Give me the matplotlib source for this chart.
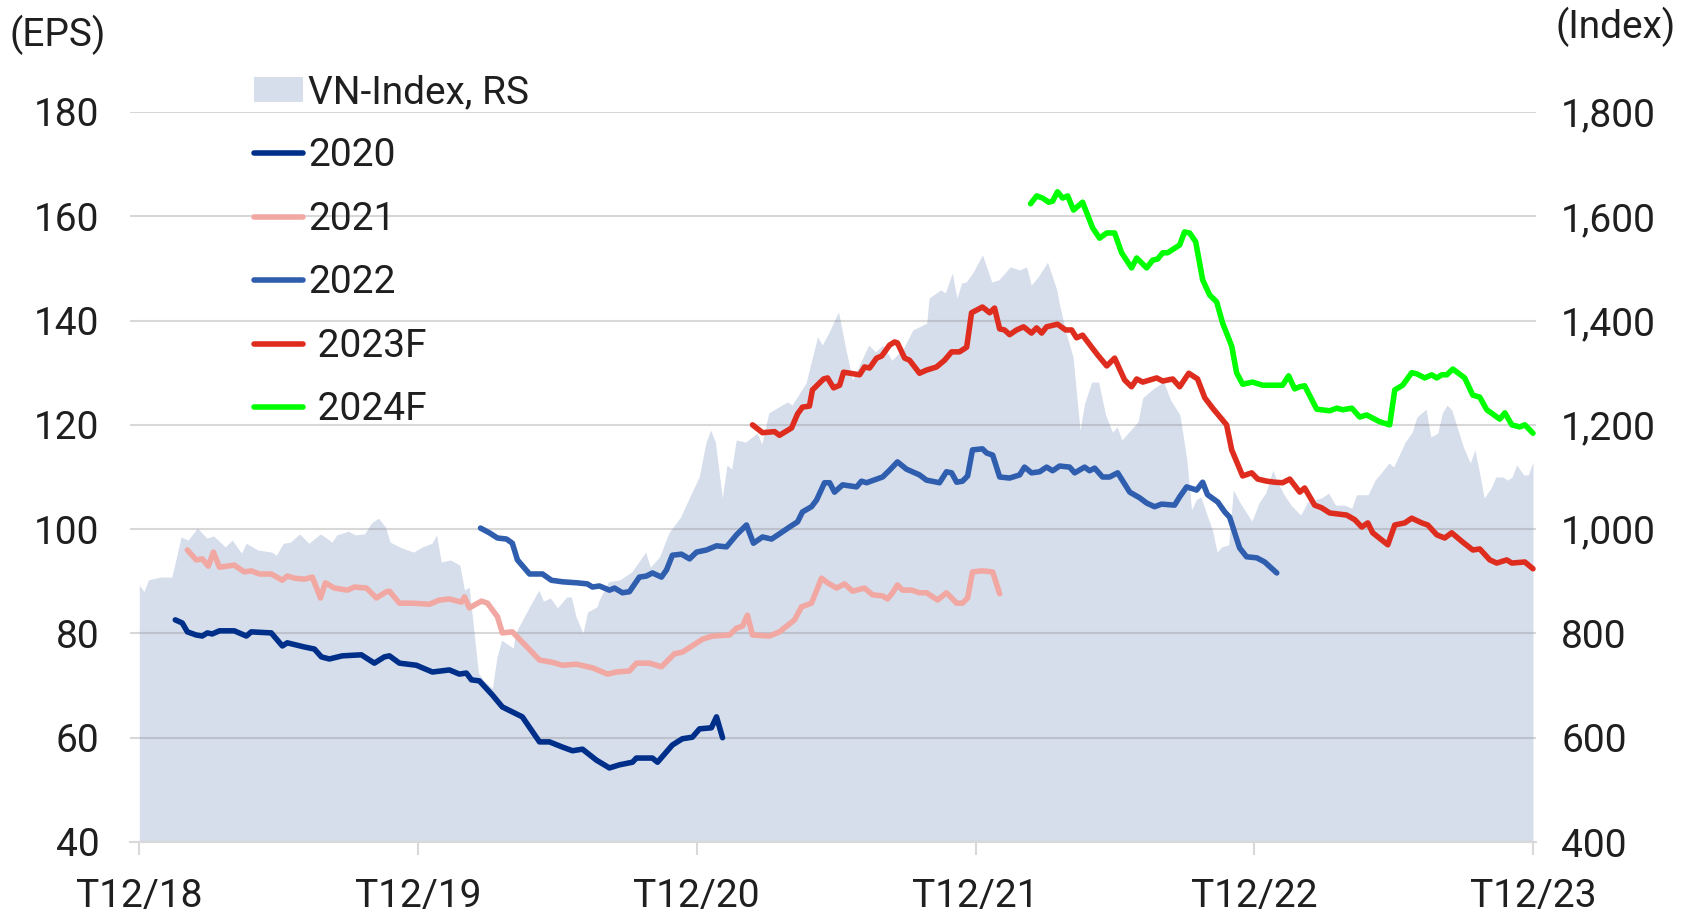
import matplotlib.pyplot as plt
from matplotlib.lines import Line2D
from matplotlib.patches import Patch
from matplotlib.ticker import FuncFormatter

# Data (x = months since T12/18) ---------------------------------------------

x_ticks = [0, 12, 24, 36, 48, 60]
x_labels = ["T12/18", "T12/19", "T12/20", "T12/21", "T12/22", "T12/23"]

# VN-Index, right scale
area_month = [0.0, 0.2, 0.4, 0.9, 1.4, 1.8, 2.1, 2.5, 2.9, 3.2,
              3.7, 4.0, 4.4, 4.6, 5.1, 5.7, 5.9, 6.2, 6.5, 6.9,
              7.3, 7.8, 8.3, 8.5, 9.0, 9.3, 9.7, 10.0, 10.3, 10.6,
              10.8, 11.3, 11.8, 12.2, 12.6, 12.8, 13.0, 13.4, 13.8, 14.0,
              14.2, 14.4, 14.6, 14.8, 15.2, 15.4, 15.6, 16.1, 16.2, 16.5,
              16.8, 17.2, 17.4, 17.7, 18.0, 18.4, 18.6, 18.8, 19.1, 19.3,
              19.7, 19.8, 20.2, 20.7, 21.2, 21.8, 22.0, 22.4, 22.8, 23.3,
              23.7, 24.1, 24.4, 24.6, 24.8, 25.1, 25.3, 25.5, 25.7, 26.1,
              26.6, 26.8, 27.1, 27.9, 28.1, 28.7, 29.2, 29.4, 29.7, 30.1,
              30.4, 30.7, 31.1, 31.4, 31.7, 32.0, 32.4, 32.9, 33.3, 33.9,
              34.0, 34.5, 34.7, 35.0, 35.2, 35.4, 35.6, 35.9, 36.3, 36.7,
              37.0, 37.5, 37.9, 38.2, 38.4, 38.7, 39.1, 39.5, 39.6, 39.9,
              40.2, 40.5, 40.7, 41.0, 41.3, 41.6, 41.9, 42.1, 42.3, 43.0,
              43.2, 43.7, 44.1, 44.4, 44.8, 45.1, 45.3, 45.5, 45.7, 46.0,
              46.2, 46.4, 46.6, 46.9, 47.1, 47.4, 47.9, 48.2, 48.5, 48.8,
              49.0, 49.3, 49.6, 50.0, 50.3, 50.9, 51.2, 51.5, 51.9, 52.2,
              52.4, 52.9, 53.2, 53.5, 53.8, 54.0, 54.5, 54.8, 55.0, 55.4,
              55.6, 55.9, 56.1, 56.3, 56.5, 57.0, 57.3, 57.5, 57.7, 57.9,
              58.2, 58.4, 58.7, 58.9, 59.1, 59.3, 59.6, 59.8, 60.0]
area_index = [893, 880, 903, 908, 908, 985, 979, 1002, 983, 987,
              966, 979, 954, 973, 960, 956, 950, 973, 975, 991,
              973, 991, 975, 989, 996, 989, 991, 1012, 1021, 1004,
              975, 964, 956, 966, 973, 989, 937, 941, 931, 883,
              889, 807, 724, 711, 695, 755, 787, 772, 801, 826,
              851, 883, 862, 868, 849, 870, 870, 832, 801, 841,
              851, 864, 899, 903, 918, 956, 927, 947, 993, 1023,
              1062, 1100, 1167, 1190, 1167, 1060, 1123, 1115, 1171, 1167,
              1184, 1163, 1223, 1244, 1238, 1280, 1369, 1353, 1378, 1417,
              1349, 1286, 1324, 1353, 1340, 1353, 1324, 1347, 1382, 1395,
              1443, 1459, 1453, 1491, 1443, 1472, 1474, 1493, 1526, 1474,
              1478, 1503, 1497, 1503, 1468, 1484, 1512, 1459, 1434, 1376,
              1330, 1190, 1242, 1282, 1282, 1219, 1186, 1196, 1171, 1206,
              1252, 1271, 1282, 1248, 1219, 1133, 1037, 1056, 1062, 1023,
              998, 956, 966, 970, 1075, 1050, 1015, 1050, 1070, 1113,
              1090, 1065, 1045, 1027, 1052, 1060, 1069, 1046, 1046, 1040,
              1066, 1066, 1094, 1110, 1127, 1119, 1167, 1186, 1215, 1230,
              1177, 1184, 1223, 1238, 1229, 1158, 1127, 1152, 1108, 1060,
              1079, 1100, 1100, 1094, 1100, 1123, 1104, 1104, 1129]

# EPS 2020
eps20_month = [1.55, 1.85, 2.07, 2.45, 2.71, 2.93, 3.14, 3.45, 4.09, 4.61,
               4.82, 5.68, 6.16, 6.37, 7.11, 7.54, 7.84, 8.18, 8.74, 9.56,
               10.12, 10.55, 10.77, 11.2, 11.93, 12.19, 12.62, 13.35, 13.78, 14.08,
               14.3, 14.64, 15.2, 15.63, 16.49, 17.23, 17.66, 18.22, 18.65, 19.08,
               19.68, 20.24, 20.67, 21.23, 21.4, 22.09, 22.31, 22.95, 23.38, 23.81,
               24.12, 24.63, 24.85, 25.11]
eps20 = [82.6, 82.0, 80.3, 79.7, 79.5, 80.1, 79.9, 80.5, 80.5, 79.5,
         80.3, 80.1, 77.6, 78.2, 77.4, 77.0, 75.5, 75.1, 75.7, 75.9,
         74.3, 75.5, 75.7, 74.3, 73.9, 73.4, 72.6, 73.0, 72.2, 72.4,
         71.1, 70.9, 68.2, 65.9, 64.0, 59.2, 59.2, 58.2, 57.5, 57.8,
         55.7, 54.2, 54.8, 55.3, 56.1, 56.1, 55.3, 58.6, 59.8, 60.1,
         61.7, 61.9, 64.0, 60.0]

# EPS 2021
eps21_month = [2.07, 2.45, 2.71, 2.97, 3.19, 3.45, 4.09, 4.52, 4.82, 5.17,
               5.68, 6.16, 6.37, 6.68, 7.11, 7.45, 7.8, 8.01, 8.4, 8.96,
               9.26, 9.78, 10.21, 10.64, 10.77, 11.2, 11.76, 12.49, 12.92, 13.35,
               13.87, 14.0, 14.21, 14.73, 14.99, 15.42, 15.63, 16.06, 16.28, 17.23,
               17.74, 18.22, 18.82, 19.51, 20.16, 20.54, 21.1, 21.4, 21.96, 22.48,
               23.04, 23.38, 24.25, 24.68, 25.41, 25.71, 25.97, 26.18, 26.4, 27.13,
               27.56, 28.21, 28.51, 28.94, 29.37, 29.63, 30.02, 30.36, 30.71, 31.22,
               31.57, 32.0, 32.21, 32.43, 32.64, 32.86, 33.25, 33.59, 33.89, 34.37,
               34.75, 35.19, 35.44, 35.66, 35.87, 36.3, 36.74, 37.04]
eps21 = [96.0, 94.1, 94.3, 92.9, 95.6, 92.7, 93.1, 91.8, 92.0, 91.4,
         91.4, 90.2, 91.0, 90.6, 90.4, 90.8, 86.8, 89.7, 88.7, 88.3,
         88.9, 88.7, 86.8, 88.0, 88.1, 85.8, 85.8, 85.6, 86.4, 86.6,
         86.0, 87.0, 84.9, 86.2, 85.8, 83.2, 80.1, 80.3, 79.3, 74.9,
         74.5, 73.9, 74.1, 73.4, 72.2, 72.6, 72.8, 74.3, 74.3, 73.6,
         76.1, 76.4, 78.9, 79.5, 79.7, 81.0, 81.4, 83.5, 79.7, 79.5,
         80.3, 82.6, 85.1, 85.8, 90.6, 89.7, 88.7, 89.5, 88.1, 88.7,
         87.4, 87.2, 86.6, 87.8, 89.3, 88.3, 88.3, 87.8, 87.8, 86.4,
         87.8, 85.8, 85.8, 86.8, 91.8, 92.0, 91.8, 87.6]

# EPS 2022
eps22_month = [14.69, 15.07, 15.42, 15.81, 16.06, 16.28, 16.8, 17.36, 17.74, 18.22,
               18.86, 19.29, 19.51, 19.81, 20.24, 20.46, 20.8, 21.1, 21.53, 21.83,
               22.09, 22.48, 22.7, 22.95, 23.34, 23.69, 23.99, 24.42, 24.85, 25.28,
               25.71, 26.14, 26.44, 26.83, 27.22, 27.56, 27.99, 28.34, 28.55, 28.94,
               29.16, 29.5, 29.72, 29.93, 30.28, 30.88, 31.09, 31.31, 32.0, 32.3,
               32.64, 33.03, 33.59, 33.89, 34.45, 34.75, 34.97, 35.19, 35.44, 35.66,
               35.87, 36.3, 36.48, 36.74, 37.04, 37.47, 37.9, 38.11, 38.41, 38.76,
               39.06, 39.32, 39.62, 40.05, 40.27, 40.7, 40.91, 41.13, 41.47, 41.77,
               42.12, 42.64, 43.07, 43.37, 43.71, 44.01, 44.57, 44.79, 45.09, 45.52,
               45.78, 45.99, 46.43, 46.73, 46.94, 47.37, 47.67, 48.11, 48.45, 48.97]
eps22 = [100.2, 99.3, 98.3, 98.1, 97.3, 94.1, 91.4, 91.4, 90.2, 89.9,
         89.7, 89.5, 88.9, 89.1, 88.3, 88.7, 87.8, 88.0, 90.8, 91.0,
         91.6, 90.8, 92.2, 95.0, 95.2, 94.3, 95.6, 96.0, 96.8, 96.6,
         98.9, 100.8, 97.3, 98.5, 98.1, 99.1, 100.4, 101.4, 103.3, 104.3,
         105.6, 108.9, 108.9, 107.1, 108.5, 108.1, 109.2, 108.9, 110.0, 111.3,
         112.9, 111.5, 110.4, 109.4, 108.9, 111.0, 110.8, 109.0, 109.2, 110.2,
         115.2, 115.4, 114.6, 114.2, 110.0, 109.8, 110.4, 111.9, 110.8, 111.0,
         111.9, 111.2, 112.1, 111.9, 110.8, 111.9, 111.2, 111.7, 110.0, 110.0,
         110.8, 107.1, 106.0, 105.0, 104.3, 104.8, 104.6, 106.2, 108.1, 107.5,
         109.0, 106.6, 105.2, 103.3, 102.3, 96.4, 94.7, 94.5, 93.7, 91.6]

# EPS 2023F
eps23_month = [26.4, 26.83, 27.35, 27.56, 28.08, 28.34, 28.55, 28.85, 28.98, 29.46,
               29.63, 29.89, 30.15, 30.32, 31.01, 31.22, 31.44, 31.74, 31.96, 32.3,
               32.52, 32.64, 32.95, 33.16, 33.59, 33.89, 34.32, 34.67, 34.97, 35.31,
               35.62, 35.83, 36.3, 36.61, 36.82, 37.04, 37.25, 37.47, 37.77, 38.07,
               38.41, 38.63, 38.85, 39.06, 39.53, 39.88, 40.14, 40.35, 40.61, 41.0,
               41.26, 41.65, 41.99, 42.42, 42.72, 42.94, 43.2, 43.8, 44.06, 44.49,
               44.79, 45.18, 45.56, 45.87, 46.21, 46.81, 47.03, 47.5, 47.89, 48.15,
               48.54, 48.88, 49.22, 49.53, 49.96, 50.17, 50.6, 50.9, 51.25, 51.98,
               52.33, 52.63, 52.89, 53.1, 53.75, 54.05, 54.48, 54.78, 55.21, 55.47,
               55.86, 56.2, 56.5, 56.98, 57.41, 57.71, 58.14, 58.44, 58.87, 59.09,
               59.65, 60.0]
eps23 = [120.0, 118.5, 118.7, 118.0, 119.4, 122.1, 123.4, 123.6, 126.7, 128.8,
         129.0, 127.1, 127.6, 130.1, 129.6, 131.1, 130.9, 132.8, 133.2, 135.3,
         135.9, 135.7, 132.8, 132.4, 129.9, 130.5, 131.1, 132.4, 134.0, 134.0,
         134.9, 141.5, 142.6, 141.5, 142.4, 138.4, 138.2, 137.3, 138.2, 138.8,
         137.6, 138.6, 137.6, 138.8, 139.3, 138.2, 138.2, 136.7, 137.2, 134.9,
         133.4, 131.3, 132.8, 128.6, 127.3, 128.8, 128.2, 129.0, 128.4, 128.8,
         127.3, 129.9, 128.8, 125.2, 123.2, 120.0, 115.2, 110.2, 110.8, 109.6,
         109.2, 109.0, 108.9, 109.6, 107.1, 107.9, 104.6, 104.1, 103.1, 102.7,
         101.8, 100.4, 101.2, 99.3, 97.0, 100.8, 101.2, 102.1, 101.2, 100.8,
         98.9, 98.3, 99.3, 97.5, 96.0, 96.2, 94.1, 93.5, 94.1, 93.5,
         93.7, 92.4]

# EPS 2024F
eps24_month = [38.37, 38.63, 38.89, 39.15, 39.32, 39.53, 39.75, 39.97, 40.22, 40.61,
               41.04, 41.34, 41.65, 41.99, 42.29, 42.72, 42.94, 43.37, 43.63, 43.84,
               44.06, 44.27, 44.79, 45.0, 45.22, 45.48, 45.78, 46.08, 46.38, 46.64,
               47.03, 47.24, 47.5, 47.93, 48.36, 49.22, 49.48, 49.74, 49.96, 50.17,
               50.69, 51.25, 51.55, 51.81, 52.2, 52.54, 52.84, 53.4, 53.83, 54.05,
               54.39, 54.78, 54.99, 55.34, 55.64, 55.86, 56.07, 56.29, 56.55, 57.06,
               57.41, 57.71, 58.01, 58.57, 58.79, 59.09, 59.43, 59.65, 60.0]
eps24 = [162.4, 163.9, 163.5, 162.7, 162.9, 164.7, 163.5, 163.9, 161.2, 162.7,
         157.8, 155.8, 156.8, 156.8, 153.0, 150.1, 152.0, 150.1, 151.6, 151.8,
         153.0, 153.0, 154.5, 157.0, 156.8, 155.1, 147.8, 144.9, 143.6, 139.5,
         135.1, 130.0, 127.8, 128.2, 127.6, 127.6, 129.4, 126.9, 127.3, 127.5,
         123.0, 122.7, 123.2, 122.9, 123.2, 121.5, 121.9, 120.6, 120.0, 126.7,
         127.6, 130.0, 129.8, 129.0, 129.6, 129.0, 129.6, 129.6, 130.7, 129.0,
         125.7, 125.3, 122.9, 121.1, 122.3, 120.0, 119.6, 120.0, 118.4]

# Style ----------------------------------------------------------------------

plt.rcParams["font.family"] = ["Roboto", "DejaVu Sans"]
FS = 28
TXT = "#1f1f1f"
AREA = "#D6DEEC"
LW = 4
series = [
    (eps20_month, eps20, "2020", "#002F8A"),
    (eps21_month, eps21, "2021", "#F2A8A2"),
    (eps22_month, eps22, "2022", "#2F5EAE"),
    (eps23_month, eps23, " 2023F", "#DE2D1F"),
    (eps24_month, eps24, " 2024F", "#00FF00"),
]

# Figure ---------------------------------------------------------------------

fig = plt.figure(figsize=(16.88, 9.13), dpi=100)
ax = fig.add_axes([130 / 1688, 71 / 913, 1406 / 1688, 730 / 913])
ax2 = ax.twinx()
ax.set_zorder(2)
ax2.set_zorder(1)
ax.patch.set_visible(False)

# area on right scale
ax2.fill_between(area_month, 400, area_index, color=AREA, lw=0)
ax2.set_ylim(400, 1800)
ax2.set_yticks(range(400, 1801, 200))
ax2.yaxis.set_major_formatter(FuncFormatter(lambda v, p: f"{int(v):,}"))

# EPS lines on left scale
for m, v, lab, col in series:
    ax.plot(m, v, color=col, lw=LW, solid_joinstyle="round", solid_capstyle="round")

ax.set_xlim(-0.4, 60.13)
ax.set_ylim(40, 180)
ax.set_yticks(range(40, 181, 20))
ax.set_xticks(x_ticks)
ax.set_xticklabels(x_labels)
ax.yaxis.grid(True, color="#808080", alpha=0.3, lw=1.5)
ax.set_axisbelow(True)

for a in (ax, ax2):
    for s in ("top", "left", "right"):
        a.spines[s].set_visible(False)
ax2.spines["bottom"].set_visible(False)
ax.spines["bottom"].set_color("#D9D9D9")
ax.spines["bottom"].set_linewidth(1.5)

ax.tick_params(axis="x", length=9, width=1.5, color="#D9D9D9", pad=17,
               labelsize=FS, labelcolor=TXT)
ax.tick_params(axis="y", length=0, pad=22, labelsize=FS, labelcolor=TXT)
ax2.tick_params(axis="y", length=0, pad=18, labelsize=FS, labelcolor=TXT)

# Legend
handles = [Patch(facecolor=AREA, edgecolor="none")]
labels = ["VN-Index, RS"]
for m, v, lab, col in series:
    handles.append(Line2D([], [], color=col, lw=LW, solid_capstyle="round"))
    labels.append(lab)
ax.legend(handles, labels, loc="upper left", bbox_to_anchor=(254 / 1688, 1 - 74 / 913),
          bbox_transform=fig.transFigure, frameon=False, fontsize=FS,
          handlelength=1.25, handleheight=0.6, handletextpad=0.15,
          labelspacing=0.68, borderpad=0, borderaxespad=0, labelcolor=TXT)

fig.text(10 / 1688, 1 - 35 / 913, "(EPS)", ha="left", va="center", fontsize=FS, color=TXT)
fig.text(1676 / 1688, 1 - 27 / 913, "(Index)", ha="right", va="center", fontsize=FS, color=TXT)

fig.savefig("out.png", dpi=100)
